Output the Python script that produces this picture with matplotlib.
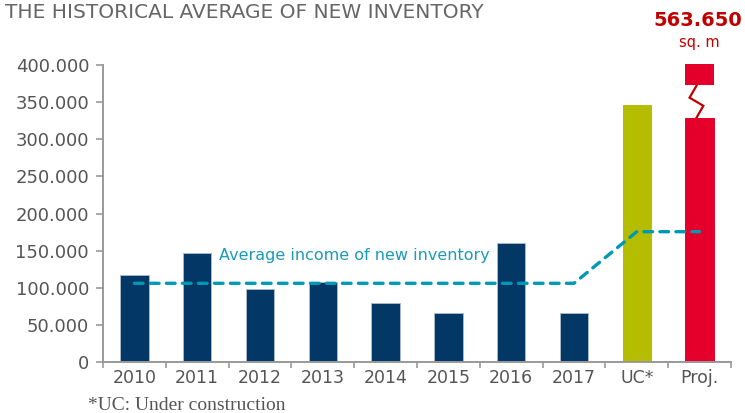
import matplotlib
matplotlib.use("Agg")
import matplotlib.pyplot as plt
import numpy as np

categories = ["2010", "2011", "2012", "2013", "2014", "2015", "2016", "2017", "UC*", "Proj."]
values = [117000, 147000, 98000, 108000, 80000, 66000, 160000, 66000, 346000, 329000]
bar_colors = ["#033866"] * 8 + ["#b5bd00", "#e4002b"]
average_line = [106000] * 8 + [175500, 175500]
proj_top_piece = (373000, 401000)
proj_break_y = [372000, 356000, 345000, 329000]
proj_break_dx = [-0.05, -0.16, 0.06, -0.05]
proj_total_label = "563.650"
yticks = [0, 50000, 100000, 150000, 200000, 250000, 300000, 350000, 400000]
ytick_labels = ["0", "50.000", "100.000", "150.000", "200.000", "250.000", "300.000", "350.000", "400.000"]

fig = plt.figure(figsize=(7.45, 4.13), dpi=100)
ax = fig.add_axes([103/745, 1-362/413, (731-103)/745, (362-65)/413])

x = np.arange(len(categories))
w = 0.45
for i in range(len(categories)):
    ec = "#aab8c8" if i < 8 else bar_colors[i]
    ax.bar(x[i], values[i], width=w, color=bar_colors[i], edgecolor=ec, linewidth=0.7, zorder=2)

# top piece of projected bar (broken axis)
ax.bar(x[-1], proj_top_piece[1]-proj_top_piece[0], bottom=proj_top_piece[0], width=w,
       color=bar_colors[-1], linewidth=0, zorder=2, clip_on=False)
ax.plot(x[-1] + np.array(proj_break_dx), proj_break_y, color="#c00000", lw=1.6, zorder=3,
        solid_joinstyle="miter")

ax.plot(x, average_line, color="#0099b5", lw=2.4, dashes=(2.6, 2.2), dash_capstyle="round",
        zorder=4)
ax.text(1.35, 143000, "Average income of new inventory", color="#1a9bb8", fontsize=11.5,
        va="center", ha="left")

fig.text(698/745, 1-20/413, proj_total_label, color="#c00000",
         fontsize=14, fontweight="bold", ha="center", va="center")
fig.text(699/745, 1-43/413, "sq. m", color="#c00000", fontsize=10.5, ha="center", va="center")

ax.set_xlim(-0.5, len(categories)-0.5)
ax.set_ylim(0, 400000)
ax.set_yticks(yticks)
ax.set_yticklabels(ytick_labels, fontsize=13, color="#555555")
ax.set_xticks(x)
ax.set_xticklabels(categories, fontsize=12.5, color="#555555")
ax.set_xticks(np.arange(-0.5, len(categories), 1), minor=True)
ax.tick_params(axis="x", which="major", length=0, pad=5)
ax.tick_params(axis="x", which="minor", length=4, color="#999999", width=1.2, direction="out")
ax.tick_params(axis="y", length=5, color="#999999", width=1.2, pad=5)
for s in ["top", "right"]:
    ax.spines[s].set_visible(False)
for s in ["left", "bottom"]:
    ax.spines[s].set_color("#999999")
    ax.spines[s].set_linewidth(1.4)

fig.text(5/745, 1-12/413, "THE HISTORICAL AVERAGE OF NEW INVENTORY", color="#666666",
         fontsize=14.5, ha="left", va="center")
fig.text(88/745, 1-405/413, "*UC: Under construction", color="#555555",
         fontsize=14, ha="left", va="center", family="Liberation Serif")

fig.savefig("out.png", dpi=100)
